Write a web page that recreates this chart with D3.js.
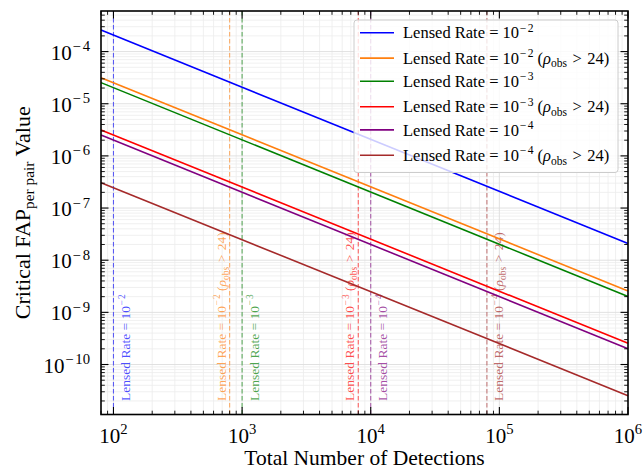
<!DOCTYPE html>
<html><head><meta charset="utf-8">
<script src="https://cdn.jsdelivr.net/npm/d3@7"></script>
<style>
body{margin:0;background:#fff}
svg{display:block}
text{font-family:"Liberation Serif","Times New Roman",serif;fill:#000}
</style>
</head><body>
<svg id="chart" width="644" height="470"></svg>
<script>
// ---------------- data ----------------
const detections = [80, 1e6];                       // x values of line endpoints
const rateExp = ["−2", "−2", "−3", "−3", "−4", "−4"];
const rhoCut = [false, true, false, true, false, true];
const fapRate2 = [2.58e-4, 2.09e-8];
const fapRate2Rho = [3.15e-5, 2.57e-9];
const fapRate3 = [2.54e-5, 2.02e-9];
const fapRate3Rho = [3.14e-6, 2.55e-10];
const fapRate4 = [2.52e-6, 2.0e-10];
const fapRate4Rho = [3.06e-7, 2.53e-11];
const seriesValues = [fapRate2, fapRate2Rho, fapRate3, fapRate3Rho, fapRate4, fapRate4Rho];
const thresholdN = [100, 800, 1000, 8000, 10000, 80000];
const thresholdLabelY = 2e-11;
const xTickExp = [2, 3, 4, 5, 6];
const yTickExp = [-10, -9, -8, -7, -6, -5, -4];
const xDomain = [80, 1e6];
const yDomain = [1.1e-11, 6e-4];

// ---------------- style ----------------
const colors = ["#0000ff", "#ff7f0e", "#008000", "#ff0000", "#800080", "#a52a2a"];
const labelSide = ["right", "left", "right", "left", "right", "right"];
const M = {left: 101, right: 628, top: 11, bottom: 414.5};

const svg = d3.select("#chart");
const x = d3.scaleLog().domain(xDomain).range([M.left, M.right]);
const y = d3.scaleLog().domain(yDomain).range([M.bottom, M.top]);

// rich text helper (mathtext-like)
function rich(sel, parts, size) {
  let cur = 0;
  parts.forEach(p => {
    let target = 0, fs = size;
    if (p.sup) { target = -0.40 * size; fs = 0.7 * size; }
    if (p.sub) { target = 0.22 * size; fs = 0.7 * size; }
    const ts = sel.append("tspan").text(p.t).attr("font-size", fs);
    if (target - cur !== 0) ts.attr("dy", target - cur);
    if (p.dx) ts.attr("dx", p.dx * size);
    if (p.it) ts.attr("font-style", "italic");
    if (p.ls) ts.attr("letter-spacing", p.ls * fs);
    cur = target;
  });
}
function supParts(exp) {
  // wide math minus
  if (exp.startsWith("−")) return [{t: "−", sup: true, dx: 0.04, ls: 0.12}, {t: exp.slice(1), sup: true}];
  return [{t: exp, sup: true}];
}
function labelParts(i) {
  const parts = [{t: "Lensed Rate = 10"}, ...supParts(rateExp[i])];
  if (rhoCut[i]) {
    parts.push({t: " ("}, {t: "ρ", it: true}, {t: "obs", sub: true}, {t: "\u2004>\u200424)"});
  }
  return parts;
}

// ticks
function minorTicks(dom) {
  const out = [];
  const lo = Math.floor(Math.log10(dom[0])), hi = Math.ceil(Math.log10(dom[1]));
  for (let e = lo; e <= hi; e++) for (let k = 2; k <= 9; k++) {
    const v = k * Math.pow(10, e);
    if (v >= dom[0] && v <= dom[1]) out.push(v);
  }
  return out;
}
const xMajor = xTickExp.map(e => Math.pow(10, e));
const yMajor = yTickExp.map(e => Math.pow(10, e));
const xMinor = minorTicks(xDomain);
const yMinor = minorTicks(yDomain);

// grid
const grid = svg.append("g");
xMinor.forEach(v => grid.append("line").attr("x1", x(v)).attr("x2", x(v)).attr("y1", M.top).attr("y2", M.bottom).attr("stroke", "#ececec").attr("stroke-width", 0.8));
yMinor.forEach(v => grid.append("line").attr("y1", y(v)).attr("y2", y(v)).attr("x1", M.left).attr("x2", M.right).attr("stroke", "#ececec").attr("stroke-width", 0.8));
xMajor.forEach(v => grid.append("line").attr("x1", x(v)).attr("x2", x(v)).attr("y1", M.top).attr("y2", M.bottom).attr("stroke", "#dedede").attr("stroke-width", 0.9));
yMajor.forEach(v => grid.append("line").attr("y1", y(v)).attr("y2", y(v)).attr("x1", M.left).attr("x2", M.right).attr("stroke", "#dedede").attr("stroke-width", 0.9));

// threshold dashed lines + labels
const thr = svg.append("g");
thresholdN.forEach((n, i) => {
  thr.append("line").attr("x1", x(n)).attr("x2", x(n)).attr("y1", M.top).attr("y2", M.bottom)
    .attr("stroke", colors[i]).attr("stroke-opacity", 0.6).attr("stroke-width", 1.1)
    .attr("stroke-dasharray", "4.5,2.5");
  const bx = labelSide[i] === "right" ? x(n) + 16.5 : x(n) - 4;
  const t = thr.append("text").attr("transform", `translate(${bx},${y(thresholdLabelY)}) rotate(-90)`)
    .style("fill", colors[i]).attr("fill-opacity", 0.7);
  rich(t, labelParts(i), 13.5);
});

// series lines
const line = d3.line().x(d => x(d[0])).y(d => y(d[1]));
seriesValues.forEach((vals, i) => {
  svg.append("path").datum(detections.map((n, j) => [n, vals[j]]))
    .attr("d", line).attr("fill", "none").attr("stroke", colors[i]).attr("stroke-width", 1.6);
});

// legend
const lg = svg.append("g");
lg.append("rect").attr("x", 354).attr("y", 20).attr("width", 264).attr("height", 152.5).attr("rx", 3)
  .attr("fill", "#fff").attr("fill-opacity", 0.8).attr("stroke", "#cccccc").attr("stroke-width", 1);
colors.forEach((c, i) => {
  const ly = 32.7 + 24.3 * i + (rhoCut[i] ? 1.1 : 0);
  lg.append("line").attr("x1", 360).attr("x2", 394).attr("y1", ly).attr("y2", ly).attr("stroke", c).attr("stroke-width", 1.6);
  const t = lg.append("text").attr("x", 403).attr("y", ly + 5.6);
  rich(t, labelParts(i), 16.5);
});

// frame
svg.append("rect").attr("x", M.left).attr("y", M.top).attr("width", M.right - M.left).attr("height", M.bottom - M.top)
  .attr("fill", "none").attr("stroke", "#000").attr("stroke-width", 1.6);

// ticks (inward on all sides)
const tk = svg.append("g").attr("stroke", "#000");
const MAJ = 7.5, MIN = 3.8;
xMajor.forEach(v => {
  tk.append("line").attr("x1", x(v)).attr("x2", x(v)).attr("y1", M.bottom).attr("y2", M.bottom - MAJ).attr("stroke-width", 1.1);
  tk.append("line").attr("x1", x(v)).attr("x2", x(v)).attr("y1", M.top).attr("y2", M.top + MAJ).attr("stroke-width", 1.1);
});
xMinor.forEach(v => {
  tk.append("line").attr("x1", x(v)).attr("x2", x(v)).attr("y1", M.bottom).attr("y2", M.bottom - MIN).attr("stroke-width", 0.9);
  tk.append("line").attr("x1", x(v)).attr("x2", x(v)).attr("y1", M.top).attr("y2", M.top + MIN).attr("stroke-width", 0.9);
});
yMajor.forEach(v => {
  tk.append("line").attr("y1", y(v)).attr("y2", y(v)).attr("x1", M.left).attr("x2", M.left + MAJ).attr("stroke-width", 1.1);
  tk.append("line").attr("y1", y(v)).attr("y2", y(v)).attr("x1", M.right).attr("x2", M.right - MAJ).attr("stroke-width", 1.1);
});
yMinor.forEach(v => {
  tk.append("line").attr("y1", y(v)).attr("y2", y(v)).attr("x1", M.left).attr("x2", M.left + MIN).attr("stroke-width", 0.9);
  tk.append("line").attr("y1", y(v)).attr("y2", y(v)).attr("x1", M.right).attr("x2", M.right - MIN).attr("stroke-width", 0.9);
});

// tick labels
const TFS = 21;
xTickExp.forEach((e, i) => {
  const t = svg.append("text").attr("x", x(xMajor[i])).attr("y", M.bottom + 28).attr("text-anchor", "middle");
  rich(t, [{t: "10"}, ...supParts(String(e))], TFS);
});
yTickExp.forEach((e, i) => {
  const t = svg.append("text").attr("x", 90).attr("y", y(yMajor[i]) + 8).attr("text-anchor", "end");
  rich(t, [{t: "10"}, ...supParts(String(e).replace("-", "−"))], TFS);
});

// axis titles
svg.append("text").attr("x", (M.left + M.right) / 2).attr("y", 464.5).attr("text-anchor", "middle")
  .attr("font-size", 21.5).text("Total Number of Detections");
const yl = svg.append("text").attr("transform", `translate(29.5,${(M.top + M.bottom) / 2}) rotate(-90)`).attr("text-anchor", "middle");
rich(yl, [{t: "Critical FAP"}, {t: "per pair", sub: true}, {t: " Value"}], 22);
</script>
</body></html>
